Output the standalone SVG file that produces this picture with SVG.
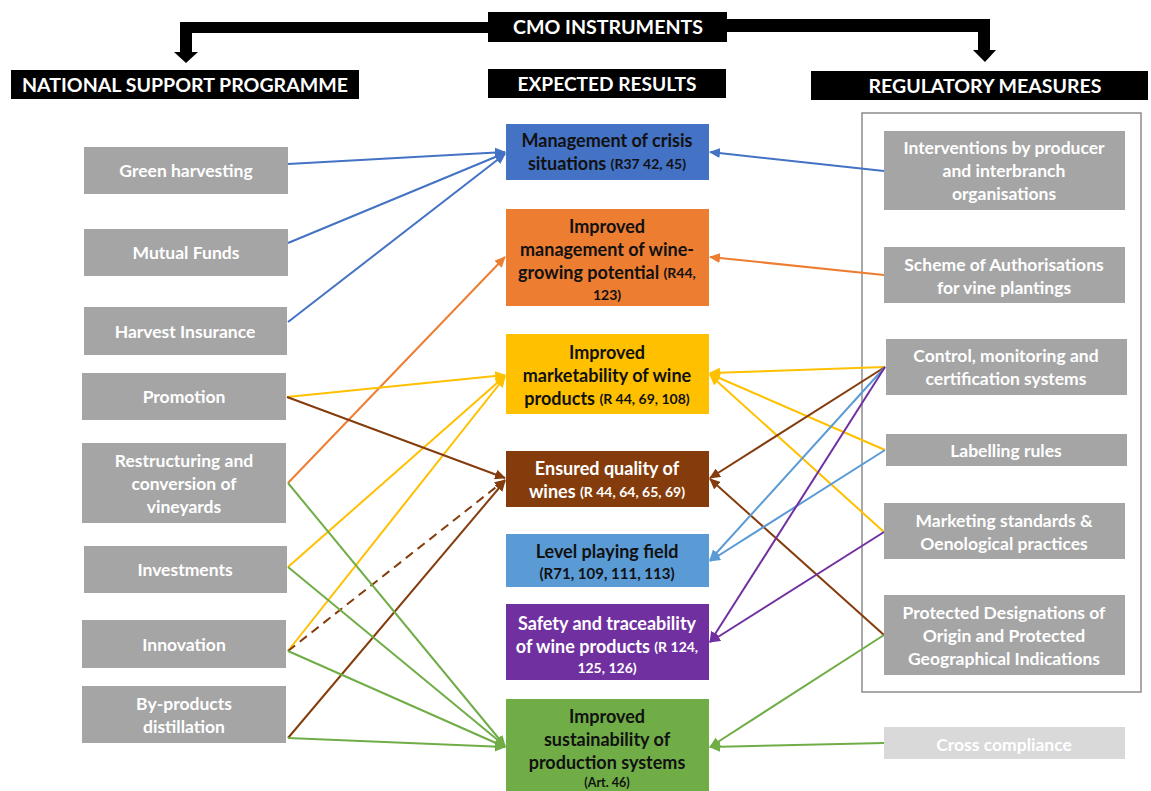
<svg xmlns="http://www.w3.org/2000/svg" width="1151" height="791" viewBox="0 0 1151 791">
<style>
.hdr{fill:#000}
.hdrt{fill:#fff;font-family:Lato,"Liberation Sans",sans-serif;font-weight:700;font-size:18px;text-anchor:middle;dominant-baseline:central}
.g{fill:#A5A5A5}
.gt{fill:#fff;font-family:Lato,"Liberation Sans",sans-serif;font-weight:700;font-size:17.5px;text-anchor:middle;dominant-baseline:central}
.mt{font-family:Lato,"Liberation Sans",sans-serif;font-weight:700;font-size:18px;text-anchor:middle;dominant-baseline:central}
.sm{font-size:14px}
.dk{fill:#111}
.wt{fill:#fff}
.c{fill:none;stroke-width:2}
</style>
<defs>
<marker id="mBlue" markerUnits="userSpaceOnUse" markerWidth="11" markerHeight="10" refX="10" refY="5" orient="auto"><path d="M0,0 L11,5 L0,10 z" fill="#4472C4"/></marker>
<marker id="mOrange" markerUnits="userSpaceOnUse" markerWidth="11" markerHeight="10" refX="10" refY="5" orient="auto"><path d="M0,0 L11,5 L0,10 z" fill="#ED7D31"/></marker>
<marker id="mGold" markerUnits="userSpaceOnUse" markerWidth="11" markerHeight="10" refX="10" refY="5" orient="auto"><path d="M0,0 L11,5 L0,10 z" fill="#FFC000"/></marker>
<marker id="mBrown" markerUnits="userSpaceOnUse" markerWidth="11" markerHeight="10" refX="10" refY="5" orient="auto"><path d="M0,0 L11,5 L0,10 z" fill="#843C0C"/></marker>
<marker id="mLBlue" markerUnits="userSpaceOnUse" markerWidth="11" markerHeight="10" refX="10" refY="5" orient="auto"><path d="M0,0 L11,5 L0,10 z" fill="#5B9BD5"/></marker>
<marker id="mPurple" markerUnits="userSpaceOnUse" markerWidth="11" markerHeight="10" refX="10" refY="5" orient="auto"><path d="M0,0 L11,5 L0,10 z" fill="#7030A0"/></marker>
<marker id="mGreen" markerUnits="userSpaceOnUse" markerWidth="11" markerHeight="10" refX="10" refY="5" orient="auto"><path d="M0,0 L11,5 L0,10 z" fill="#70AD47"/></marker>
</defs>
<rect width="1151" height="791" fill="#fff"/>

<!-- header arrows -->
<g id="header-arrows" fill="#000">
<path d="M488,22 L180,22 L180,52 L174,52 L186,63 L198,52 L192,52 L192,33 L488,33 z"/>
<path d="M727,19 L990,19 L990,50 L996,50 L985,62 L973,50 L978,50 L978,32 L727,32 z"/>
</g>

<g id="cmo"><rect class="hdr" x="488" y="12" width="239" height="30"/><text class="hdrt" x="608" y="27" textLength="190" lengthAdjust="spacingAndGlyphs">CMO INSTRUMENTS</text></g>
<g id="nsp"><rect class="hdr" x="11" y="70" width="348" height="29"/><text class="hdrt" x="185" y="85" textLength="326" lengthAdjust="spacingAndGlyphs">NATIONAL SUPPORT PROGRAMME</text></g>
<g id="expected"><rect class="hdr" x="488" y="69" width="238" height="29"/><text class="hdrt" x="607" y="84" textLength="179" lengthAdjust="spacingAndGlyphs">EXPECTED RESULTS</text></g>
<g id="regulatory"><rect class="hdr" x="811" y="71" width="337" height="29"/><text class="hdrt" x="985" y="86" textLength="233" lengthAdjust="spacingAndGlyphs">REGULATORY MEASURES</text></g>

<!-- right frame -->
<rect id="reg-frame" x="862" y="113" width="279" height="579" fill="none" stroke="#8C8C8C" stroke-width="1.5"/>

<!-- connectors -->
<g id="connectors">
<line class="c" stroke="#4472C4" marker-end="url(#mBlue)" x1="288" y1="164" x2="505" y2="152"/>
<line class="c" stroke="#4472C4" marker-end="url(#mBlue)" x1="288" y1="243" x2="505" y2="153"/>
<line class="c" stroke="#4472C4" marker-end="url(#mBlue)" x1="288" y1="322" x2="505" y2="154"/>
<line class="c" stroke="#4472C4" marker-end="url(#mBlue)" x1="884" y1="171" x2="710" y2="152"/>

<line class="c" stroke="#ED7D31" marker-end="url(#mOrange)" x1="884" y1="275" x2="710" y2="257"/>
<line class="c" stroke="#ED7D31" marker-end="url(#mOrange)" x1="288" y1="483" x2="505" y2="257"/>

<line class="c" stroke="#FFC000" marker-end="url(#mGold)" x1="287" y1="397" x2="505" y2="375"/>
<line class="c" stroke="#FFC000" marker-end="url(#mGold)" x1="288" y1="567" x2="505" y2="376"/>
<line class="c" stroke="#FFC000" marker-end="url(#mGold)" x1="288" y1="651" x2="505" y2="377"/>
<line class="c" stroke="#FFC000" marker-end="url(#mGold)" x1="885" y1="367" x2="710" y2="373"/>
<line class="c" stroke="#FFC000" marker-end="url(#mGold)" x1="885" y1="450" x2="710" y2="374"/>
<line class="c" stroke="#FFC000" marker-end="url(#mGold)" x1="884" y1="532" x2="710" y2="375"/>

<line class="c" stroke="#843C0C" marker-end="url(#mBrown)" x1="287" y1="397" x2="505" y2="478"/>
<line class="c" stroke="#843C0C" marker-end="url(#mBrown)" x1="288" y1="651" x2="505" y2="480" stroke-dasharray="9,6"/>
<line class="c" stroke="#843C0C" marker-end="url(#mBrown)" x1="288" y1="738" x2="505" y2="481"/>
<line class="c" stroke="#843C0C" marker-end="url(#mBrown)" x1="885" y1="367" x2="710" y2="478"/>
<line class="c" stroke="#843C0C" marker-end="url(#mBrown)" x1="884" y1="635" x2="710" y2="479"/>

<line class="c" stroke="#5B9BD5" marker-end="url(#mLBlue)" x1="885" y1="367" x2="710" y2="560"/>
<line class="c" stroke="#5B9BD5" marker-end="url(#mLBlue)" x1="885" y1="450" x2="710" y2="561"/>

<line class="c" stroke="#7030A0" marker-end="url(#mPurple)" x1="885" y1="367" x2="710" y2="642"/>
<line class="c" stroke="#7030A0" marker-end="url(#mPurple)" x1="884" y1="532" x2="710" y2="642"/>

<line class="c" stroke="#70AD47" marker-end="url(#mGreen)" x1="288" y1="483" x2="505" y2="746"/>
<line class="c" stroke="#70AD47" marker-end="url(#mGreen)" x1="288" y1="567" x2="505" y2="746"/>
<line class="c" stroke="#70AD47" marker-end="url(#mGreen)" x1="288" y1="651" x2="505" y2="747"/>
<line class="c" stroke="#70AD47" marker-end="url(#mGreen)" x1="288" y1="738" x2="505" y2="747"/>
<line class="c" stroke="#70AD47" marker-end="url(#mGreen)" x1="884" y1="635" x2="710" y2="747"/>
<line class="c" stroke="#70AD47" marker-end="url(#mGreen)" x1="884" y1="743" x2="710" y2="747"/>
</g>

<!-- left nodes -->
<g id="green-harvesting"><rect class="g" x="84" y="147" width="204" height="47"/><text class="gt" x="186" y="170">Green harvesting</text></g>
<g id="mutual-funds"><rect class="g" x="84" y="229" width="204" height="47"/><text class="gt" x="186" y="252">Mutual Funds</text></g>
<g id="harvest-insurance"><rect class="g" x="84" y="307" width="203" height="48"/><text class="gt" x="185" y="331">Harvest Insurance</text></g>
<g id="promotion"><rect class="g" x="82" y="373" width="204" height="47"/><text class="gt" x="184" y="396">Promotion</text></g>
<g id="restructuring"><rect class="g" x="82" y="443" width="204" height="80"/><text class="gt" x="184" y="460">Restructuring and</text><text class="gt" x="184" y="483">conversion of</text><text class="gt" x="184" y="506">vineyards</text></g>
<g id="investments"><rect class="g" x="84" y="546" width="203" height="47"/><text class="gt" x="185" y="569">Investments</text></g>
<g id="innovation"><rect class="g" x="82" y="620" width="204" height="48"/><text class="gt" x="184" y="644">Innovation</text></g>
<g id="by-products"><rect class="g" x="82" y="686" width="204" height="57"/><text class="gt" x="184" y="703">By-products</text><text class="gt" x="184" y="726">distillation</text></g>

<!-- middle nodes -->
<g id="crisis"><rect x="506" y="124" width="203" height="56" fill="#4472C4"/><text class="mt dk" x="607" y="140">Management of crisis</text><text class="mt dk" x="607" y="163">situations <tspan class="sm">(R37 42, 45)</tspan></text></g>
<g id="potential"><rect x="506" y="209" width="203" height="97" fill="#ED7D31"/><text class="mt dk" x="607" y="226">Improved</text><text class="mt dk" x="607" y="249">management of wine-</text><text class="mt dk" x="607" y="272">growing potential <tspan class="sm">(R44,</tspan></text><text class="mt dk sm" x="607" y="294">123)</text></g>
<g id="marketability"><rect x="506" y="334" width="203" height="80" fill="#FFC000"/><text class="mt dk" x="607" y="352">Improved</text><text class="mt dk" x="607" y="375">marketability of wine</text><text class="mt dk" x="607" y="398">products <tspan class="sm">(R 44, 69, 108)</tspan></text></g>
<g id="quality"><rect x="506" y="451" width="203" height="56" fill="#843C0C"/><text class="mt wt" x="607" y="468">Ensured quality of</text><text class="mt wt" x="607" y="491">wines <tspan class="sm">(R 44, 64, 65, 69)</tspan></text></g>
<g id="level"><rect x="506" y="534" width="203" height="53" fill="#5B9BD5"/><text class="mt dk" x="607" y="551">Level playing field</text><text class="mt dk" x="607" y="573" style="font-size:15px">(R71, 109, 111, 113)</text></g>
<g id="safety"><rect x="506" y="604" width="203" height="76" fill="#7030A0"/><text class="mt wt" x="607" y="623">Safety and traceability</text><text class="mt wt" x="607" y="646">of wine products <tspan class="sm">(R 124,</tspan></text><text class="mt wt sm" x="607" y="667">125, 126)</text></g>
<g id="sustainability"><rect x="506" y="699" width="203" height="92" fill="#70AD47"/><text class="mt dk" x="607" y="716">Improved</text><text class="mt dk" x="607" y="739">sustainability of</text><text class="mt dk" x="607" y="762">production systems</text><text class="mt dk sm" x="607" y="782" style="font-size:12.5px">(Art. 46)</text></g>

<!-- right nodes -->
<g id="interventions"><rect class="g" x="884" y="131" width="241" height="79"/><text class="gt" x="1004" y="147">Interventions by producer</text><text class="gt" x="1004" y="170">and interbranch</text><text class="gt" x="1004" y="193">organisations</text></g>
<g id="authorisations"><rect class="g" x="884" y="247" width="241" height="56"/><text class="gt" x="1004" y="264">Scheme of Authorisations</text><text class="gt" x="1004" y="287">for vine plantings</text></g>
<g id="control"><rect class="g" x="886" y="339" width="241" height="56"/><text class="gt" x="1006" y="355">Control, monitoring and</text><text class="gt" x="1006" y="378">certification systems</text></g>
<g id="labelling"><rect class="g" x="886" y="434" width="241" height="32"/><text class="gt" x="1006" y="450">Labelling rules</text></g>
<g id="marketing"><rect class="g" x="884" y="503" width="241" height="56"/><text class="gt" x="1004" y="520">Marketing standards &amp;</text><text class="gt" x="1004" y="543">Oenological practices</text></g>
<g id="protected"><rect class="g" x="884" y="595" width="241" height="80"/><text class="gt" x="1004" y="612">Protected Designations of</text><text class="gt" x="1004" y="635">Origin and Protected</text><text class="gt" x="1004" y="658">Geographical Indications</text></g>
<g id="cross-compliance"><rect x="884" y="727" width="241" height="32" fill="#D9D9D9"/><text class="gt" x="1004" y="744">Cross compliance</text></g>
</svg>
